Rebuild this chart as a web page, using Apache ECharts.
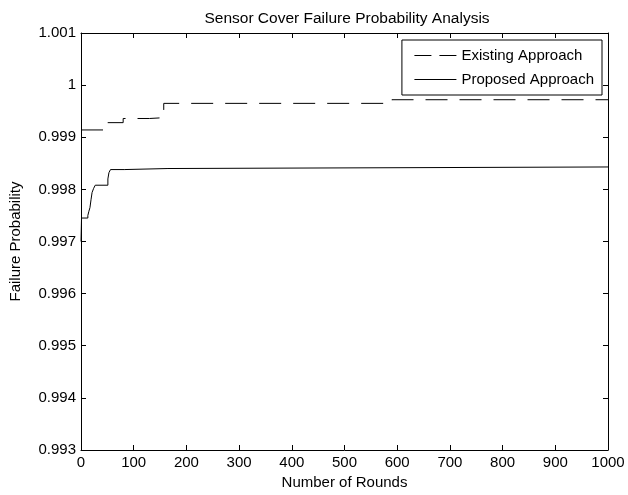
<!DOCTYPE html>
<html>
<head>
<meta charset="utf-8">
<script src="https://cdn.jsdelivr.net/npm/echarts@6/dist/echarts.min.js"></script>
<style>html,body{margin:0;padding:0;background:#fff}#c{width:628px;height:495px}</style>
</head>
<body>
<div id="c"></div>
<script>
var xTicks = [0, 100, 200, 300, 400, 500, 600, 700, 800, 900, 1000];
var yTicks = [0.993, 0.994, 0.995, 0.996, 0.997, 0.998, 0.999, 1, 1.001];

var existingRounds = [0, 50, 80, 130, 157, 590, 1000];
var existingValues = [0.99914, 0.99928, 0.99936, 0.999375, 0.99965, 0.99972, 0.99972];

var proposedRounds = [0, 1, 13, 15, 17, 19, 21, 24, 27, 51, 53, 56, 82, 165, 1000];
var proposedValues = [0.99700, 0.99745, 0.99750, 0.99758, 0.99765, 0.99780, 0.99794, 0.99802, 0.99808, 0.99820, 0.99832, 0.99838, 0.99840, 0.99843, 0.99843];

function pairs(xs, ys) { return xs.map(function (x, i) { return [x, ys[i]]; }); }

var FONT = 'Liberation Sans';
var FS = 15;
var chart = echarts.init(document.getElementById('c'));
var fmtY = function (v) { return parseFloat(v.toFixed(3)).toString(); };
var axisCommon = {
  axisLine: { show: true, onZero: false, lineStyle: { color: '#000', width: 1 } },
  axisTick: { show: true, inside: true, length: 5, lineStyle: { color: '#000' } },
  splitLine: { show: false }
};
chart.setOption({
  animation: false,
  backgroundColor: '#fff',
  title: {
    text: 'Sensor Cover Failure Probability Analysis',
    left: 342, top: 6, textAlign: 'center',
    textStyle: { fontFamily: FONT, fontSize: 15.5, fontWeight: 'normal', color: '#000' }
  },
  legend: {
    orient: 'vertical', right: 26, top: 40,
    backgroundColor: '#fff', borderColor: '#000', borderWidth: 1,
    padding: [8, 8, 8, 12], itemGap: 9, itemWidth: 42, itemHeight: 16,
    itemStyle: { opacity: 0 },
    textStyle: { fontFamily: FONT, fontSize: FS, color: '#000' },
    data: [
      { name: 'Existing Approach', lineStyle: { type: [17, 8], width: 1, color: '#000' } },
      { name: 'Proposed Approach', lineStyle: { type: 'solid', width: 1, color: '#000' } }
    ]
  },
  grid: { left: 80, right: 20, top: 33, bottom: 35 },
  xAxis: [
    Object.assign({
      type: 'value', min: 0, max: 1000, interval: 100,
      name: 'Number of Rounds', nameLocation: 'middle', nameGap: 25,
      nameTextStyle: { fontFamily: FONT, fontSize: FS, color: '#000' },
      axisLabel: { fontFamily: FONT, fontSize: FS, color: '#000', margin: 5,
        formatter: function (v) { return xTicks.indexOf(v) >= 0 ? String(v) : ''; } }
    }, axisCommon),
    Object.assign({
      type: 'value', min: 0, max: 1000, interval: 100, position: 'top',
      axisLabel: { show: false }
    }, axisCommon)
  ],
  yAxis: [
    Object.assign({
      type: 'value', min: yTicks[0], max: yTicks[yTicks.length - 1], interval: 0.001,
      name: 'Failure Probability', nameLocation: 'middle', nameGap: 58,
      nameTextStyle: { fontFamily: FONT, fontSize: FS, color: '#000' },
      axisLabel: { fontFamily: FONT, fontSize: FS, color: '#000', margin: 5, formatter: fmtY }
    }, axisCommon),
    Object.assign({
      type: 'value', min: yTicks[0], max: yTicks[yTicks.length - 1], interval: 0.001, position: 'right',
      axisLabel: { show: false }
    }, axisCommon)
  ],
  series: [
    {
      name: 'Existing Approach', type: 'line', step: 'end', symbol: 'none',
      data: pairs(existingRounds, existingValues),
      lineStyle: { color: '#000', width: 1, type: [22, 12] },
      itemStyle: { color: '#000' }
    },
    {
      name: 'Proposed Approach', type: 'line', step: 'end', symbol: 'none',
      data: pairs(proposedRounds, proposedValues),
      lineStyle: { color: '#000', width: 1, type: 'solid' },
      itemStyle: { color: '#000' }
    }
  ]
});
</script>
</body>
</html>
